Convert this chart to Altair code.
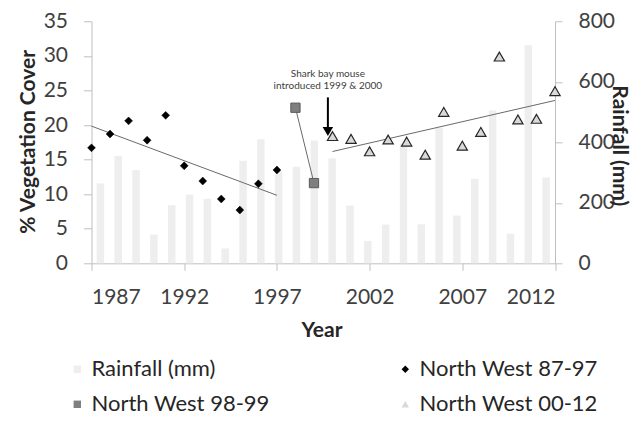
import altair as alt
import pandas as pd

# ---------------- data ----------------
years = list(range(1987, 2013))
rainfall = [264, 355, 308, 95, 192, 227, 213, 49, 339, 410, 305, 319, 406,
            347, 191, 74, 128, 395, 129, 448, 158, 279, 505, 98, 721, 284]

years_87_97 = list(range(1987, 1998))
cover_87_97 = [16.7, 18.7, 20.6, 17.8, 21.4, 14.1, 11.9, 9.3, 7.7, 11.5, 13.5]

years_98_99 = [1998, 1999]
cover_98_99 = [22.5, 11.6]

years_00_12 = list(range(2000, 2013))
cover_00_12 = [18.4, 18.0, 16.2, 17.9, 17.6, 15.7, 21.9, 17.0, 19.0, 29.9,
               20.8, 20.9, 24.9]

series_names = ["Rainfall (mm)", "North West 87-97", "North West 98-99",
                "North West 00-12"]
x_ticks = [1987, 1992, 1997, 2002, 2007, 2012]
cover_ticks = [0, 5, 10, 15, 20, 25, 30, 35]
rain_ticks = [0, 200, 400, 600, 800]

note_lines = ["Shark bay mouse", "introduced 1999 & 2000"]
note_year = 1999.75
note_text_cover = 26.9
arrow_top = 24.0
arrow_end = 19.4
arrow_head = 19.05

# ---------------- tables ----------------
rain_df = pd.DataFrame({"year": years, "rain": rainfall})
df_a = pd.DataFrame({"year": years_87_97, "cover": cover_87_97, "series": series_names[1]})
df_b = pd.DataFrame({"year": years_98_99, "cover": cover_98_99, "series": series_names[2]})
df_c = pd.DataFrame({"year": years_00_12, "cover": cover_00_12, "series": series_names[3]})
pts_df = pd.concat([df_a, df_b, df_c], ignore_index=True)
note_df = pd.DataFrame({"year": [note_year], "cover": [note_text_cover],
                        "top": [arrow_top], "end": [arrow_end], "head": [arrow_head]})

W, H = 463.5, 242

x_axis = alt.Axis(values=x_ticks, format="d", title="Year",
                  tickSize=7, labelPadding=16, labelOverlap=False,
                  titleX=230, titleY=73.5, titleBaseline="alphabetic")
y_axis = alt.Axis(values=cover_ticks, title="% Vegetation Cover",
                  tickSize=8, labelPadding=16, labelOverlap=False,
                  titleAngle=-90, titleX=-57, titleY=120,
                  titleBaseline="alphabetic")
x_scale = alt.Scale(domain=[1987, 2012], nice=False, zero=False)
y_scale = alt.Scale(domain=[0, 35], nice=False)


def xq(field):
    return alt.X(field, type="quantitative", scale=x_scale, axis=x_axis)


def yq(field):
    return alt.Y(field, type="quantitative", scale=y_scale, axis=y_axis)


fill_scale = alt.Scale(domain=series_names,
                       range=["#eeeeee", "#000000", "#7f7f7f", "#d9d9d9"])
shape_scale = alt.Scale(domain=series_names,
                        range=["square", "diamond", "square", "triangle-up"])

legend = alt.Legend(title=None, orient="none", direction="horizontal",
                    legendX=-25.2, legendY=337, columns=2, columnPadding=124,
                    rowPadding=13, padding=0, labelLimit=300)

bars = alt.Chart(rain_df).mark_bar(color="#eeeeee").encode(
    x=alt.X("year:O", axis=None,
            scale=alt.Scale(paddingInner=0.58, paddingOuter=0.29)),
    y=alt.Y("rain:Q", scale=alt.Scale(domain=[0, 800], nice=False),
            axis=alt.Axis(orient="right", values=rain_ticks, title="Rainfall (mm)",
                          tickSize=7, labelPadding=16, labelOverlap=False,
                          titleAngle=90, titleX=57, titleY=124,
                          titleBaseline="alphabetic")),
)

trend = alt.Chart(pts_df).transform_regression(
    "year", "cover", groupby=["series"]
).mark_line(color="#6a6a6a", strokeWidth=1).encode(
    x=xq("year"), y=yq("cover"), detail="series:N"
)


def pts(df, size, stroke, sw):
    return alt.Chart(df).mark_point(filled=True, opacity=1, size=size,
                                    stroke=stroke, strokeWidth=sw).encode(
        x=xq("year"), y=yq("cover"),
        fill=alt.Fill("series:N", scale=fill_scale, legend=legend),
        shape=alt.Shape("series:N", scale=shape_scale, legend=legend),
    )


pts_a = pts(df_a, 62, "#000000", 0.5)
pts_b = pts(df_b, 86, "#5a5a5a", 1)
pts_c = pts(df_c, 105, "#262626", 1.2)

note_text = alt.Chart(note_df).mark_text(
    font="Lato", fontSize=10, color="#404040", align="center",
    baseline="alphabetic", lineHeight=11.5
).encode(x=xq("year"), y=yq("cover"), text=alt.value(note_lines))

arrow_line = alt.Chart(note_df).mark_rule(color="#000000", strokeWidth=2).encode(
    x=xq("year"), y=yq("top"), y2="end:Q")

arrow_tip = alt.Chart(note_df).mark_point(
    shape="triangle-down", filled=True, color="#000000", size=110, opacity=1
).encode(x=xq("year"), y=yq("head"))

inner = alt.layer(trend, pts_a, pts_b, pts_c, note_text, arrow_line, arrow_tip)

chart = alt.layer(bars, inner).resolve_scale(
    x="independent", y="independent"
).properties(
    width=W, height=H,
    autosize=alt.AutoSizeParams(type="none"),
    padding={"left": 83.5, "top": 13.3, "right": 79, "bottom": 153.7},
).configure_view(strokeWidth=0).configure_axis(
    grid=False,
    labelFont="Lato", labelFontSize=21, labelColor="#404040",
    titleFont="Lato", titleFontSize=21, titleFontWeight="bold", titleColor="#262626",
    domainColor="#bfbfbf", tickColor="#bfbfbf", domainWidth=1, tickWidth=1,
).configure_legend(
    labelFont="Lato", labelFontSize=22, labelColor="#262626",
    symbolSize=55, labelOffset=3.2, symbolStrokeWidth=0,
)

chart.save("out.html", embed_options={"renderer": "svg", "actions": False})
